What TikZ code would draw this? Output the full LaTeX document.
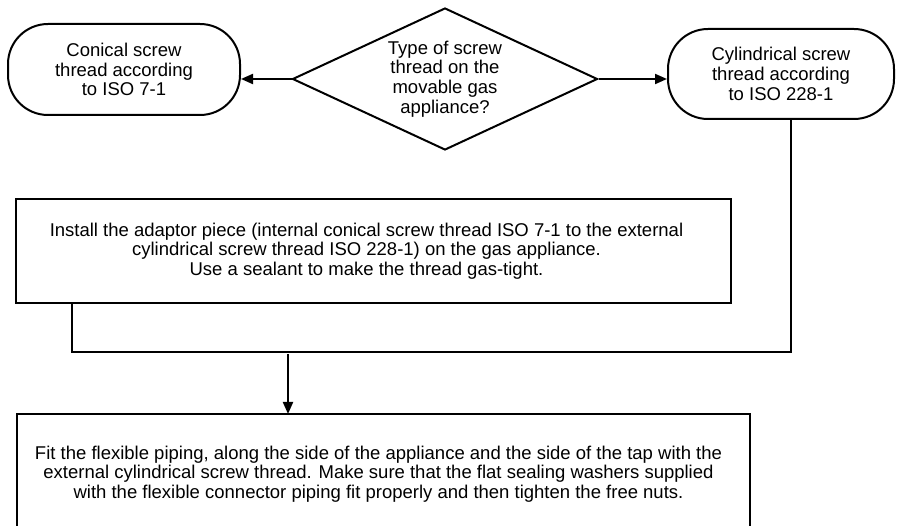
\documentclass[tikz,border=0pt]{standalone}
\usepackage{fontspec}
\setmainfont{Liberation Sans}
\usetikzlibrary{shapes.geometric,arrows.meta}
\begin{document}
\begin{tikzpicture}[x=1pt,y=-1pt,
  line width=2pt,
  txt/.style={font=\fontsize{18.5}{19.7}\selectfont, align=center},
  term/.style={txt, draw, rounded corners=40pt, inner sep=0pt},
  boxnode/.style={draw, inner sep=0pt},
  arr/.style={-{Triangle[length=12pt,width=10pt]}}]
\useasboundingbox (0,0) rectangle (897,526);
\node[term, minimum width=232pt, minimum height=91pt] (lt) at (124,69.5) {Conical screw\\thread according\\to ISO 7-1};
\node[term, minimum width=226pt, minimum height=90pt] (rt) at (781,74) {Cylindrical screw\\thread according\\to ISO 228-1};
\node[txt, draw, diamond, aspect=2.15, inner sep=0pt, minimum width=305pt, minimum height=142pt] (q) at (445,79) {Type of screw\\thread on the\\movable gas\\appliance?};
\draw[arr] (q.west) -- (q.west -| lt.east);
\draw[arr] (q.east) -- (q.east -| rt.west);
\node[boxnode, minimum width=715pt, minimum height=104pt] (ib) at (373.5,251) {};
\node[txt, inner sep=0pt] (ibt) at ([xshift=-7pt]ib.center) {Install the adaptor piece (internal conical screw thread ISO 7-1 to the external\\cylindrical screw thread ISO 228-1) on the gas appliance.\\Use a sealant to make the thread gas-tight.};
\coordinate (jl) at (72,352);
\coordinate (jr) at (790.5,352);
\draw (jl |- ib.south) -- (jl) -- (jr) -- (jr |- rt.south);
\node[inner sep=0pt, minimum width=731pt, minimum height=118pt] (b) at (383.5,474) {};
\node[txt, inner sep=0pt] (bt) at ([xshift=-5pt]b.center) {Fit the flexible piping, along the side of the appliance and the side of the tap with the\\external cylindrical screw thread. Make sure that the flat sealing washers supplied\\with the flexible connector piping fit properly and then tighten the free nuts.};
\draw (b.south west) -- (b.north west) -- (b.north east) -- (b.south east);
\coordinate (ja) at (288,354.5);
\draw[arr] (ja) -- (ja |- b.north);
\end{tikzpicture}
\end{document}
